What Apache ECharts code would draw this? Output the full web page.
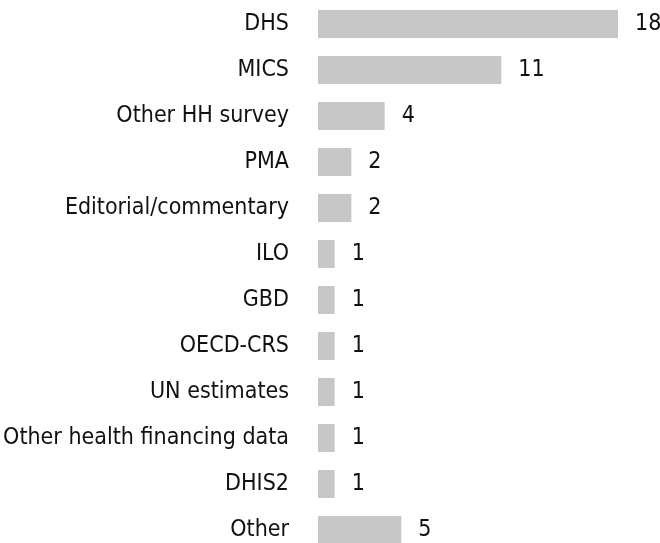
<!DOCTYPE html>
<html>
<head>
<meta charset="utf-8">
<script src="https://cdn.jsdelivr.net/npm/echarts@6/dist/echarts.min.js"></script>
<style>
    html, body { margin: 0; padding: 0; background: #fff; }
    #chart { width: 660px; height: 543px; }
</style>
</head>
<body>
<div id="chart"></div>
<script>
const categories = [
    "DHS", "MICS", "Other HH survey", "PMA", "Editorial/commentary", "ILO",
    "GBD", "OECD-CRS", "UN estimates", "Other health financing data", "DHIS2", "Other",
];
const counts = [18, 11, 4, 2, 2, 1, 1, 1, 1, 1, 1, 5];

const font = "DejaVu Sans Condensed";

const option = {
    animation: false,
    grid: {
        left: 318,
        right: 42,
        top: 1,
        height: 552,
        outerBoundsMode: "none",
    },
    xAxis: {
        type: "value",
        min: 0,
        max: 18,
        show: false,
    },
    yAxis: {
        type: "category",
        inverse: true,
        data: categories,
        axisLine: { show: false },
        axisTick: { show: false },
        splitLine: { show: false },
        axisLabel: {
            margin: 29,
            color: "#111",
            fontFamily: font,
            fontSize: 23,
        },
    },
    series: [
        {
            type: "bar",
            data: counts,
            barWidth: 28,
            itemStyle: { color: "#c6c7c6" },
            label: {
                show: true,
                position: "right",
                distance: 17,
                color: "#111",
                fontFamily: font,
                fontSize: 23,
            },
        },
    ],
};

const chart = echarts.init(document.getElementById("chart"));
chart.setOption(option);
</script>
</body>
</html>
